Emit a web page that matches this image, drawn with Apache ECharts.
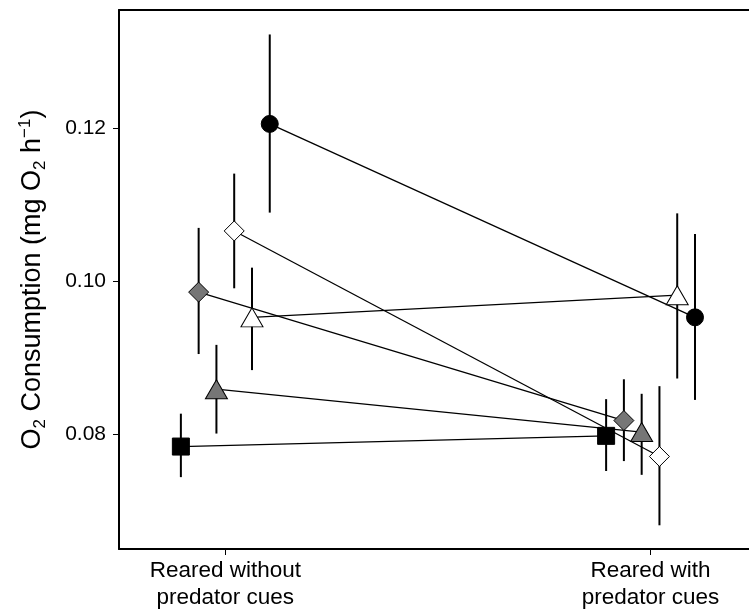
<!DOCTYPE html>
<html>
<head>
<meta charset="utf-8">
<script src="https://cdn.jsdelivr.net/npm/echarts@6/dist/echarts.min.js"></script>
<style>html,body{margin:0;padding:0;background:#fff}#c{width:749px;height:611px}</style>
</head>
<body>
<div id="c"></div>
<script>
// ---- data ----
var categories = ['Reared without\npredator cues', 'Reared with\npredator cues'];
var groups = ['G1', 'G2', 'G3', 'G4', 'G5', 'G6'];
var meanWithout  = [0.0784, 0.0986, 0.0859, 0.1066, 0.0953, 0.1206];
var lowerWithout = [0.0744, 0.0905, 0.0801, 0.0991, 0.0884, 0.1090];
var upperWithout = [0.0827, 0.1070, 0.0917, 0.1141, 0.1018, 0.1323];
var meanWith  = [0.0798, 0.0818, 0.0803, 0.0771, 0.0982, 0.0953];
var lowerWith = [0.0752, 0.0765, 0.0747, 0.0681, 0.0873, 0.0845];
var upperWith = [0.0846, 0.0872, 0.0853, 0.0863, 0.1089, 0.1062];
var yTicks = [0.08, 0.10, 0.12];

// ---- styles ----
var symbols = ['rect', 'diamond', 'triangle', 'diamond', 'triangle', 'circle'];
var sizes = [[17, 17], [20, 20], [22, 19], [20, 20], [22, 19], [17, 17]];
var fills = ['#000000', '#767676', '#767676', '#ffffff', '#ffffff', '#000000'];
var dodge = 0.0418;
var FONT = 'Liberation Sans, Arial, Helvetica, sans-serif';

function xPos(catIdx, gi) { return catIdx + 1 + (gi - 2.5) * dodge; }

var series = [];
groups.forEach(function (g, gi) {
  series.push({
    type: 'line', name: g + '-line', z: 2, silent: true, symbol: 'none',
    lineStyle: { color: '#000', width: 1.3 },
    data: [[xPos(0, gi), meanWithout[gi]], [xPos(1, gi), meanWith[gi]]]
  });
});
var errData = [];
groups.forEach(function (g, gi) {
  errData.push([xPos(0, gi), lowerWithout[gi], upperWithout[gi]]);
  errData.push([xPos(1, gi), lowerWith[gi], upperWith[gi]]);
});
series.push({
  type: 'custom', name: 'err', z: 3, silent: true,
  data: errData,
  encode: { x: 0, y: [1, 2] },
  renderItem: function (params, api) {
    var p1 = api.coord([api.value(0), api.value(1)]);
    var p2 = api.coord([api.value(0), api.value(2)]);
    return { type: 'line', shape: { x1: p1[0], y1: p1[1], x2: p2[0], y2: p2[1] },
      style: { stroke: '#000', lineWidth: 2 } };
  }
});
groups.forEach(function (g, gi) {
  series.push({
    type: 'scatter', name: g, z: 5, silent: true,
    symbol: symbols[gi], symbolSize: sizes[gi],
    itemStyle: { color: fills[gi], borderColor: '#000', borderWidth: 1, opacity: 1 },
    data: [[xPos(0, gi), meanWithout[gi]], [xPos(1, gi), meanWith[gi]]]
  });
});

var chart = echarts.init(document.getElementById('c'), null, { renderer: 'canvas' });
chart.setOption({
  animation: false,
  backgroundColor: '#fff',
  grid: { left: 119, right: 0, top: 10, bottom: 61.5, containLabel: false },
  xAxis: [{
    type: 'value', min: 0.75, max: 2.2315, position: 'bottom',
    splitLine: { show: false },
    axisLine: { show: true, lineStyle: { color: '#000', width: 2 } },
    axisTick: { show: true, customValues: [1, 2], length: 6, lineStyle: { color: '#000', width: 1 } },
    axisLabel: {
      customValues: [1, 2], margin: 8,
      formatter: function (v) { return categories[Math.round(v) - 1]; },
      fontFamily: FONT, fontSize: 22.5, lineHeight: 27, color: '#000'
    }
  }, {
    type: 'value', min: 0.75, max: 2.2315, position: 'top',
    splitLine: { show: false },
    axisLine: { show: true, onZero: false, lineStyle: { color: '#000', width: 2 } },
    axisTick: { show: false }, axisLabel: { show: false }
  }],
  yAxis: {
    type: 'value', min: 0.065, max: 0.1355,
    splitLine: { show: false },
    axisLine: { show: true, lineStyle: { color: '#000', width: 2 } },
    axisTick: { show: true, customValues: yTicks, length: 6, lineStyle: { color: '#000', width: 1 } },
    axisLabel: {
      customValues: yTicks, margin: 13,
      formatter: function (v) { return v.toFixed(2); },
      fontFamily: FONT, fontSize: 21, color: '#000'
    },
    name: '{n|O}{s|2}{n| Consumption (mg O}{s|2}{n| h}{p|\u22121}{n|)}',
    nameLocation: 'middle', nameRotate: 90, nameGap: 70,
    nameTextStyle: {
      fontFamily: FONT, color: '#000',
      rich: {
        n: { fontFamily: FONT, fontSize: 27, lineHeight: 32, color: '#000' },
        s: { fontFamily: FONT, fontSize: 17, lineHeight: 17, verticalAlign: 'bottom', color: '#000' },
        p: { fontFamily: FONT, fontSize: 17, lineHeight: 17, verticalAlign: 'top', color: '#000' }
      }
    }
  },
  series: series
});
</script>
</body>
</html>
